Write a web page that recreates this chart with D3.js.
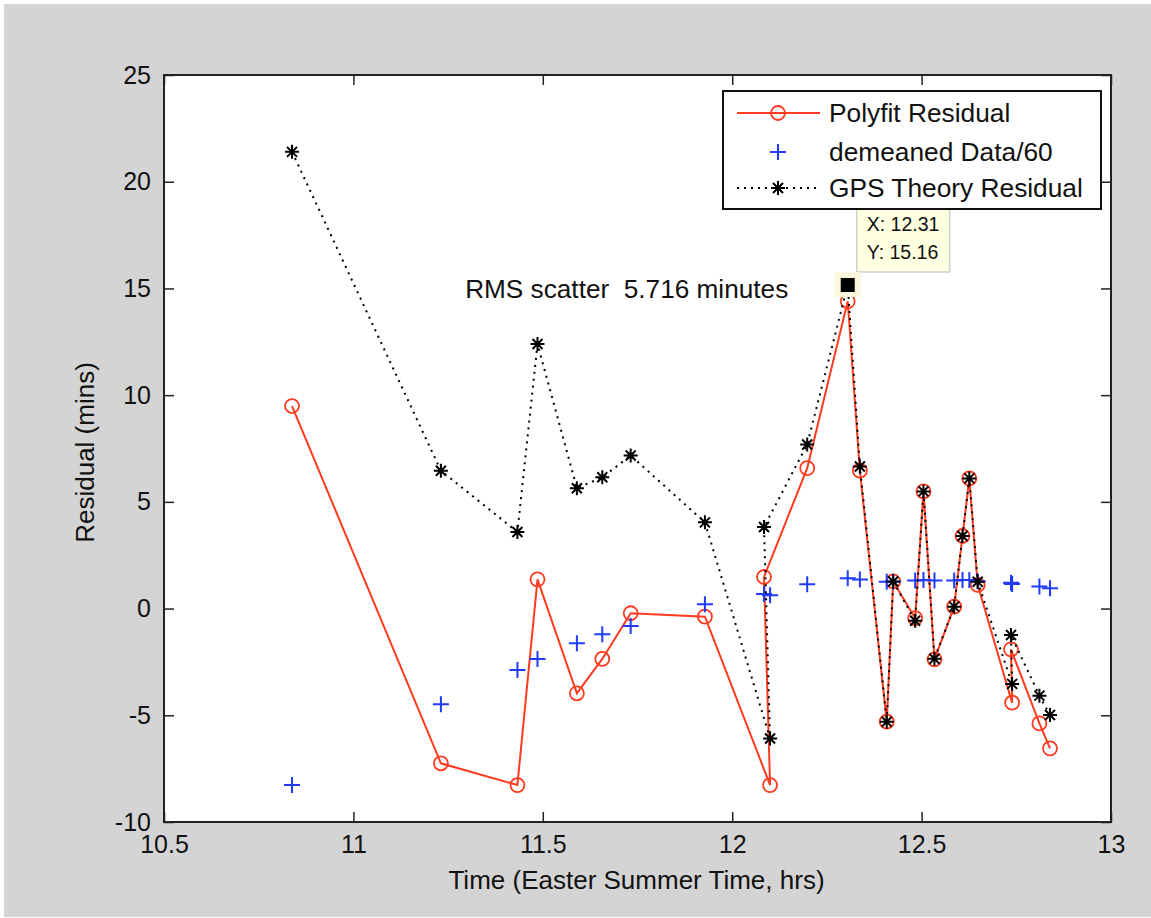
<!DOCTYPE html>
<html>
<head>
<meta charset="utf-8">
<script src="https://cdn.jsdelivr.net/npm/d3@7"></script>
<style>
  body { margin: 0; background: #fff; }
  text { font-family: "Liberation Sans", Arial, sans-serif; fill: #111; }
</style>
</head>
<body>
<div id="chart"></div>
<script>
// time of each observation (hrs), in the order the samples were plotted
var timeHrs = [10.838, 11.231, 11.433, 11.486, 11.590, 11.657, 11.732, 11.928, 12.100, 12.084,
               12.198, 12.305, 12.337, 12.408, 12.425, 12.483, 12.505, 12.534, 12.586, 12.608,
               12.626, 12.648, 12.739, 12.736, 12.811, 12.839];

var polyfitResid = [9.49, -7.25, -8.27, 1.37, -3.97, -2.36, -0.22, -0.38, -8.27, 1.48,
                    6.58, 14.40, 6.46, -5.30, 1.27, -0.45, 5.49, -2.38, 0.09, 3.40,
                    6.10, 1.11, -4.41, -1.91, -5.38, -6.55];

var demeanedData = [-8.27, -4.48, -2.88, -2.36, -1.63, -1.20, -0.82, 0.20, 0.62, 0.68,
                    1.14, 1.42, 1.36, 1.26, 1.26, 1.32, 1.34, 1.32, 1.32, 1.34,
                    1.34, 1.28, 1.15, 1.21, 1.03, 0.95];

var gpsTheoryResid = [21.40, 6.46, 3.59, 12.40, 5.64, 6.15, 7.17, 4.04, -6.09, 3.82,
                      7.69, 15.16, 6.66, -5.30, 1.27, -0.57, 5.49, -2.35, 0.09, 3.40,
                      6.10, 1.26, -3.53, -1.24, -4.08, -4.99];

var xTicks = [10.5, 11, 11.5, 12, 12.5, 13];
var yTicks = [-10, -5, 0, 5, 10, 15, 20, 25];

var legendLabels = ["Polyfit Residual", "demeaned Data/60", "GPS Theory Residual"];
var tipPoint = {x: 12.305, y: 15.16, label: ["X: 12.31", "Y: 15.16"]};
var rmsNote = {x: 11.295, y: 15.0, text: "RMS scatter  5.716 minutes"};

//svg parameters
var svgWidth = 1151;
var svgHeight = 918;

var chartMargin = { top: 75, left: 164, right: 40, bottom: 96 };
var chartWidth = svgWidth - chartMargin.left - chartMargin.right;
var chartHeight = svgHeight - chartMargin.top - chartMargin.bottom;

var redColor = "#ff3b1f";
var blueColor = "#1f3bff";

var svg = d3.select("#chart").append("svg")
    .attr("width", svgWidth)
    .attr("height", svgHeight);

// grey figure background
svg.append("rect")
    .attr("x", 4).attr("y", 4)
    .attr("width", svgWidth - 4).attr("height", svgHeight - 5)
    .attr("fill", "#d4d4d4");

var chartGroup = svg.append("g")
    .attr("transform", `translate(${chartMargin.left}, ${chartMargin.top})`);

chartGroup.append("rect")
    .attr("width", chartWidth).attr("height", chartHeight)
    .attr("fill", "#fff");

//scales
var xScale = d3.scaleLinear().domain([10.5, 13]).range([0, chartWidth]);
var yScale = d3.scaleLinear().domain([-10, 25]).range([chartHeight, 0]);

//axes, ticks pointing inwards on all four sides
var fmt = d => String(d);
var bottomAxis = d3.axisBottom(xScale).tickValues(xTicks).tickFormat(fmt).tickSizeInner(-10).tickSizeOuter(0).tickPadding(12);
var leftAxis = d3.axisLeft(yScale).tickValues(yTicks).tickFormat(fmt).tickSizeInner(-10).tickSizeOuter(0).tickPadding(13);
var topAxis = d3.axisTop(xScale).tickValues(xTicks).tickFormat("").tickSizeInner(-10).tickSizeOuter(0);
var rightAxis = d3.axisRight(yScale).tickValues(yTicks).tickFormat("").tickSizeInner(-10).tickSizeOuter(0);

var gx = chartGroup.append("g").attr("transform", `translate(0, ${chartHeight})`).call(bottomAxis);
var gy = chartGroup.append("g").call(leftAxis);
var gt = chartGroup.append("g").call(topAxis);
var gr = chartGroup.append("g").attr("transform", `translate(${chartWidth}, 0)`).call(rightAxis);

[gx, gy, gt, gr].forEach(function(g) {
    g.select(".domain").remove();
    g.selectAll(".tick line").attr("stroke", "#222").attr("stroke-width", 1.5);
    g.selectAll(".tick text").attr("font-size", "25px").attr("fill", "#111")
        .attr("font-family", "Liberation Sans, Arial, sans-serif");
});
gx.selectAll(".tick text").attr("dy", "0.75em");

chartGroup.append("rect")
    .attr("width", chartWidth).attr("height", chartHeight)
    .attr("fill", "none").attr("stroke", "#222").attr("stroke-width", 2);

//axis labels
chartGroup.append("text")
    .attr("x", chartWidth / 2 - 1)
    .attr("y", chartHeight + 67)
    .attr("text-anchor", "middle")
    .attr("font-size", "26px")
    .text("Time (Easter Summer Time, hrs)");

chartGroup.append("text")
    .attr("transform", `translate(${94 - chartMargin.left}, ${chartHeight / 2 + 4}) rotate(-90)`)
    .attr("text-anchor", "middle")
    .attr("font-size", "26px")
    .text("Residual (mins)");

var idx = d3.range(timeHrs.length);

//polyfit residual: red line with circles
var redLine = d3.line().x(i => xScale(timeHrs[i])).y(i => yScale(polyfitResid[i]));
chartGroup.append("path")
    .attr("d", redLine(idx))
    .attr("fill", "none").attr("stroke", redColor).attr("stroke-width", 2);
chartGroup.selectAll("circle.poly")
    .data(idx).enter().append("circle")
    .attr("class", "poly")
    .attr("cx", i => xScale(timeHrs[i]))
    .attr("cy", i => yScale(polyfitResid[i]))
    .attr("r", 7)
    .attr("fill", "none").attr("stroke", redColor).attr("stroke-width", 1.8);

//demeaned data: blue plus markers
var plusPath = "M-8,0L8,0M0,-8L0,8";
chartGroup.selectAll("path.plus")
    .data(idx).enter().append("path")
    .attr("class", "plus")
    .attr("d", plusPath)
    .attr("transform", i => `translate(${xScale(timeHrs[i])}, ${yScale(demeanedData[i])})`)
    .attr("stroke", blueColor).attr("stroke-width", 2);

//gps theory residual: dotted black line with stars
var starPath = "M-7,0L7,0M0,-7L0,7M-5,-5L5,5M-5,5L5,-5";
var gpsLine = d3.line().x(i => xScale(timeHrs[i])).y(i => yScale(gpsTheoryResid[i]));
chartGroup.append("path")
    .attr("d", gpsLine(idx))
    .attr("fill", "none").attr("stroke", "#000").attr("stroke-width", 2)
    .attr("stroke-dasharray", "2,5");
chartGroup.selectAll("path.star")
    .data(idx).enter().append("path")
    .attr("class", "star")
    .attr("d", starPath)
    .attr("transform", i => `translate(${xScale(timeHrs[i])}, ${yScale(gpsTheoryResid[i])})`)
    .attr("stroke", "#000").attr("stroke-width", 2);

//rms annotation
chartGroup.append("text")
    .attr("x", xScale(rmsNote.x))
    .attr("y", yScale(rmsNote.y))
    .attr("dy", "0.35em")
    .attr("font-size", "26.2px")
    .style("white-space", "pre")
    .attr("xml:space", "preserve")
    .text(rmsNote.text);

//data tip
var tipX = xScale(tipPoint.x), tipY = yScale(tipPoint.y);
chartGroup.append("rect")
    .attr("x", tipX + 9).attr("y", tipY - 100)
    .attr("width", 93).attr("height", 87)
    .attr("fill", "#ffffe1").attr("stroke", "#cfcfcf").attr("stroke-width", 1.5);
chartGroup.selectAll("text.tip")
    .data(tipPoint.label).enter().append("text")
    .attr("class", "tip")
    .attr("x", tipX + 19)
    .attr("y", (d, i) => tipY - 54 + i * 28)
    .attr("font-size", "19.5px")
    .text(d => d);
chartGroup.append("rect")
    .attr("x", tipX - 13).attr("y", tipY - 13)
    .attr("width", 26).attr("height", 25)
    .attr("fill", "#fbf6dc");
chartGroup.append("rect")
    .attr("x", tipX - 7).attr("y", tipY - 7)
    .attr("width", 14).attr("height", 14)
    .attr("fill", "#000");

//legend
var legend = svg.append("g").attr("transform", "translate(723, 91)");
legend.append("rect")
    .attr("width", 378).attr("height", 118)
    .attr("fill", "#fff").attr("stroke", "#111").attr("stroke-width", 2);

var rowY = [22, 61, 97];
// polyfit row
legend.append("line").attr("x1", 14).attr("x2", 97).attr("y1", rowY[0]).attr("y2", rowY[0])
    .attr("stroke", redColor).attr("stroke-width", 2);
legend.append("circle").attr("cx", 55).attr("cy", rowY[0]).attr("r", 7)
    .attr("fill", "none").attr("stroke", redColor).attr("stroke-width", 1.8);
// demeaned row
legend.append("path").attr("d", plusPath).attr("transform", `translate(55, ${rowY[1]})`)
    .attr("stroke", blueColor).attr("stroke-width", 2);
// gps row
legend.append("line").attr("x1", 14).attr("x2", 97).attr("y1", rowY[2]).attr("y2", rowY[2])
    .attr("stroke", "#000").attr("stroke-width", 2).attr("stroke-dasharray", "2,5");
legend.append("path").attr("d", starPath).attr("transform", `translate(55, ${rowY[2]})`)
    .attr("stroke", "#000").attr("stroke-width", 2);

legend.selectAll("text.leg")
    .data(legendLabels).enter().append("text")
    .attr("class", "leg")
    .attr("x", 106)
    .attr("y", (d, i) => rowY[i])
    .attr("dy", "0.35em")
    .attr("font-size", "26.3px")
    .text(d => d);
</script>
</body>
</html>
